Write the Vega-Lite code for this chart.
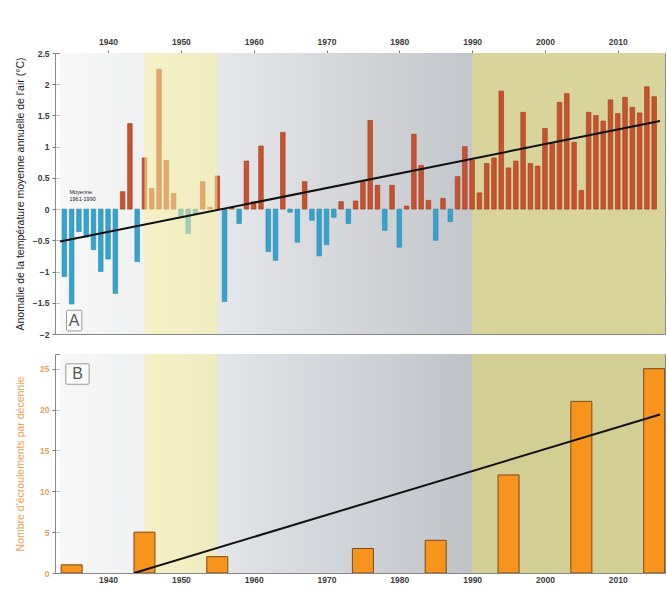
{
  "$schema": "https://vega.github.io/schema/vega-lite/v6.json",
  "background": "white",
  "padding": {"left": 14, "top": 36, "right": 0, "bottom": 0},
  "autosize": {"type": "pad"},
  "bounds": "flush",
  "spacing": 20,
  "config": {
    "view": {"stroke": "#8a8a8a", "strokeWidth": 1},
    "axis": {
      "labelFont": "Liberation Sans",
      "titleFont": "Liberation Sans",
      "labelFontSize": 8.5,
      "labelFontWeight": "bold",
      "labelColor": "#3a3a3a",
      "labelOverlap": false,
      "tickColor": "#777",
      "tickSize": 3,
      "domain": false,
      "grid": true,
      "gridColor": "#858585",
      "gridWidth": 0.7,
      "gridOpacity": 0.75,
      "zindex": 1,
      "titleFontWeight": "normal",
      "titleFontSize": 10.5
    }
  },
  "datasets": {
    "periods": [
      {"p": "grad", "start": 1933.4, "end": 1990},
      {"p": "olive", "start": 1990, "end": 2016.5},
      {"p": "yellow", "start": 1945, "end": 1955}
    ],
    "temp": [
      {"year": 1934, "v": -1.08}, {"year": 1935, "v": -1.52}, {"year": 1936, "v": -0.36}, {"year": 1937, "v": -0.45},
      {"year": 1938, "v": -0.65}, {"year": 1939, "v": -1.0}, {"year": 1940, "v": -0.8}, {"year": 1941, "v": -1.35},
      {"year": 1942, "v": 0.28}, {"year": 1943, "v": 1.37}, {"year": 1944, "v": -0.84}, {"year": 1945, "v": 0.82},
      {"year": 1946, "v": 0.33}, {"year": 1947, "v": 2.24}, {"year": 1948, "v": 0.78}, {"year": 1949, "v": 0.25},
      {"year": 1950, "v": -0.12}, {"year": 1951, "v": -0.39}, {"year": 1952, "v": -0.08}, {"year": 1953, "v": 0.44},
      {"year": 1954, "v": 0.03}, {"year": 1955, "v": 0.53}, {"year": 1956, "v": -1.48}, {"year": 1957, "v": 0.03},
      {"year": 1958, "v": -0.23}, {"year": 1959, "v": 0.77}, {"year": 1960, "v": 0.12}, {"year": 1961, "v": 1.01},
      {"year": 1962, "v": -0.68}, {"year": 1963, "v": -0.82}, {"year": 1964, "v": 1.23}, {"year": 1965, "v": -0.05},
      {"year": 1966, "v": -0.53}, {"year": 1967, "v": 0.44}, {"year": 1968, "v": -0.18}, {"year": 1969, "v": -0.75},
      {"year": 1970, "v": -0.57}, {"year": 1971, "v": -0.13}, {"year": 1972, "v": 0.12}, {"year": 1973, "v": -0.23},
      {"year": 1974, "v": 0.13}, {"year": 1975, "v": 0.44}, {"year": 1976, "v": 1.42}, {"year": 1977, "v": 0.38},
      {"year": 1978, "v": -0.34}, {"year": 1979, "v": 0.38}, {"year": 1980, "v": -0.61}, {"year": 1981, "v": 0.05},
      {"year": 1982, "v": 1.2}, {"year": 1983, "v": 0.7}, {"year": 1984, "v": 0.14}, {"year": 1985, "v": -0.5},
      {"year": 1986, "v": 0.17}, {"year": 1987, "v": -0.2}, {"year": 1988, "v": 0.52}, {"year": 1989, "v": 1.0},
      {"year": 1990, "v": 0.78}, {"year": 1991, "v": 0.26}, {"year": 1992, "v": 0.73}, {"year": 1993, "v": 0.82},
      {"year": 1994, "v": 1.89}, {"year": 1995, "v": 0.66}, {"year": 1996, "v": 0.77}, {"year": 1997, "v": 1.55},
      {"year": 1998, "v": 0.73}, {"year": 1999, "v": 0.69}, {"year": 2000, "v": 1.29}, {"year": 2001, "v": 1.05},
      {"year": 2002, "v": 1.71}, {"year": 2003, "v": 1.85}, {"year": 2004, "v": 1.07}, {"year": 2005, "v": 0.3},
      {"year": 2006, "v": 1.55}, {"year": 2007, "v": 1.5}, {"year": 2008, "v": 1.41}, {"year": 2009, "v": 1.75},
      {"year": 2010, "v": 1.53}, {"year": 2011, "v": 1.79}, {"year": 2012, "v": 1.63}, {"year": 2013, "v": 1.54},
      {"year": 2014, "v": 1.96}, {"year": 2015, "v": 1.8}
    ],
    "trendA": [{"year": 1933.4, "v": -0.52}, {"year": 2015.8, "v": 1.41}],
    "rock": [
      {"decade": 1935, "n": 1}, {"decade": 1945, "n": 5}, {"decade": 1955, "n": 2},
      {"decade": 1975, "n": 3}, {"decade": 1985, "n": 4}, {"decade": 1995, "n": 12}, {"decade": 2005, "n": 21},
      {"decade": 2015, "n": 25}
    ],
    "trendB": [{"decade": 1943.6, "n": 0}, {"decade": 2015.8, "n": 19.4}],
    "labelsA": [{"year": 1934.7, "v": 0.3, "t": "Moyenne\n1961-1990"}],
    "boxA": [{"x1": 1934.3, "x2": 1936.4, "y1": -1.62, "y2": -1.95, "xc": 1935.35, "yc": -1.785, "t": "A"}],
    "boxB": [{"x1": 1934.2, "x2": 1937.4, "y1": 25.6, "y2": 23.1, "xc": 1935.8, "yc": 24.35, "t": "B"}]
  },
  "vconcat": [
    {
      "width": 610,
      "height": 281,
      "resolve": {"axis": {"y": "shared"}},
      "layer": [
        {
          "data": {"name": "periods"},
          "transform": [{"filter": "datum.p == 'grad'"}],
          "mark": {"type": "rect", "clip": true, "fill": {"gradient": "linear", "x1": 0, "x2": 1, "y1": 0, "y2": 0, "stops": [
            {"offset": 0, "color": "#f7f7f7"}, {"offset": 0.2, "color": "#f0f1f2"}, {"offset": 0.5, "color": "#dfe1e4"}, {"offset": 1, "color": "#c3c6ca"}]}},
          "encoding": {
            "x": {"field": "start", "type": "quantitative", "scale": {"domain": [1933.4, 2015.8], "nice": false, "zero": false},
              "axis": {"orient": "top", "values": [1940, 1950, 1960, 1970, 1980, 1990, 2000, 2010], "format": "d", "title": null, "labelPadding": 4}},
            "x2": {"field": "end"},
            "y": {"datum": -2, "type": "quantitative", "scale": {"domain": [-2, 2.5], "nice": false},
              "axis": {"values": [-2, -1.5, -1, -0.5, 0, 0.5, 1, 1.5, 2, 2.5], "format": "~g", "title": "Anomalie de la température moyenne annuelle de l'air (°C)", "titleColor": "#1a1a1a", "titlePadding": 7, "labelPadding": 3}},
            "y2": {"datum": 2.5}
          }
        },
        {
          "data": {"name": "periods"},
          "transform": [{"filter": "datum.p == 'olive'"}],
          "mark": {"type": "rect", "clip": true, "fill": "#d8d49c"},
          "encoding": {
            "x": {"field": "start", "type": "quantitative"},
            "x2": {"field": "end"},
            "y": {"datum": -2, "type": "quantitative",
              "axis": {"values": [-2, -1.5, -1, -0.5, 0, 0.5, 1, 1.5, 2, 2.5], "format": "~g", "title": "Anomalie de la température moyenne annuelle de l'air (°C)", "titleColor": "#1a1a1a", "titlePadding": 7, "labelPadding": 3}},
            "y2": {"datum": 2.5}
          }
        },
        {
          "data": {"name": "temp"},
          "mark": {"type": "bar", "size": 4.6, "clip": true, "strokeWidth": 0.6},
          "encoding": {
            "x": {"field": "year", "type": "quantitative"},
            "y": {"field": "v", "type": "quantitative",
              "axis": {"values": [-2, -1.5, -1, -0.5, 0, 0.5, 1, 1.5, 2, 2.5], "format": "~g", "title": "Anomalie de la température moyenne annuelle de l'air (°C)", "titleColor": "#1a1a1a", "titlePadding": 7, "labelPadding": 3}},
            "color": {"condition": {"test": "datum.v > 0", "value": "#c8522d"}, "value": "#36a3cc"},
            "stroke": {"condition": {"test": "datum.v > 0", "value": "#9c3a20"}, "value": "#2a88ad"}
          }
        },
        {
          "data": {"name": "periods"},
          "transform": [{"filter": "datum.p == 'yellow'"}],
          "mark": {"type": "rect", "clip": true, "fill": "#f9f0a0", "opacity": 0.55},
          "encoding": {
            "x": {"field": "start", "type": "quantitative"},
            "x2": {"field": "end"},
            "y": {"datum": -2, "type": "quantitative",
              "axis": {"values": [-2, -1.5, -1, -0.5, 0, 0.5, 1, 1.5, 2, 2.5], "format": "~g", "title": "Anomalie de la température moyenne annuelle de l'air (°C)", "titleColor": "#1a1a1a", "titlePadding": 7, "labelPadding": 3}},
            "y2": {"datum": 2.5}
          }
        },
        {
          "data": {"name": "trendA"},
          "mark": {"type": "line", "color": "#111", "strokeWidth": 2, "clip": true},
          "encoding": {
            "x": {"field": "year", "type": "quantitative"},
            "y": {"field": "v", "type": "quantitative",
              "axis": {"values": [-2, -1.5, -1, -0.5, 0, 0.5, 1, 1.5, 2, 2.5], "format": "~g", "title": "Anomalie de la température moyenne annuelle de l'air (°C)", "titleColor": "#1a1a1a", "titlePadding": 7, "labelPadding": 3}}
          }
        },
        {
          "data": {"name": "labelsA"},
          "mark": {"type": "text", "align": "left", "baseline": "top", "fontSize": 5.5, "font": "Liberation Sans", "lineBreak": "\n", "color": "#222", "lineHeight": 6.5},
          "encoding": {
            "x": {"field": "year", "type": "quantitative"},
            "y": {"field": "v", "type": "quantitative",
              "axis": {"values": [-2, -1.5, -1, -0.5, 0, 0.5, 1, 1.5, 2, 2.5], "format": "~g", "title": "Anomalie de la température moyenne annuelle de l'air (°C)", "titleColor": "#1a1a1a", "titlePadding": 7, "labelPadding": 3}},
            "text": {"field": "t"}
          }
        },
        {
          "data": {"name": "boxA"},
          "mark": {"type": "rect", "fill": "#fbfbfb", "stroke": "#9a9a9a", "strokeWidth": 1, "cornerRadius": 1},
          "encoding": {
            "x": {"field": "x1", "type": "quantitative"},
            "x2": {"field": "x2"},
            "y": {"field": "y1", "type": "quantitative",
              "axis": {"values": [-2, -1.5, -1, -0.5, 0, 0.5, 1, 1.5, 2, 2.5], "format": "~g", "title": "Anomalie de la température moyenne annuelle de l'air (°C)", "titleColor": "#1a1a1a", "titlePadding": 7, "labelPadding": 3}},
            "y2": {"field": "y2"}
          }
        },
        {
          "data": {"name": "boxA"},
          "mark": {"type": "text", "fontSize": 16, "font": "Liberation Sans", "color": "#555", "baseline": "middle", "align": "center"},
          "encoding": {
            "x": {"field": "xc", "type": "quantitative"},
            "y": {"field": "yc", "type": "quantitative",
              "axis": {"values": [-2, -1.5, -1, -0.5, 0, 0.5, 1, 1.5, 2, 2.5], "format": "~g", "title": "Anomalie de la température moyenne annuelle de l'air (°C)", "titleColor": "#1a1a1a", "titlePadding": 7, "labelPadding": 3}},
            "text": {"field": "t"}
          }
        }
      ]
    },
    {
      "width": 610,
      "height": 219,
      "layer": [
        {
          "data": {"name": "periods"},
          "transform": [{"filter": "datum.p == 'grad'"}],
          "mark": {"type": "rect", "clip": true, "fill": {"gradient": "linear", "x1": 0, "x2": 1, "y1": 0, "y2": 0, "stops": [
            {"offset": 0, "color": "#f7f7f7"}, {"offset": 0.2, "color": "#f0f1f2"}, {"offset": 0.5, "color": "#dcdfe2"}, {"offset": 1, "color": "#bfc2c7"}]}},
          "encoding": {
            "x": {"field": "start", "type": "quantitative", "scale": {"domain": [1933.4, 2015.8], "nice": false, "zero": false},
              "axis": {"orient": "bottom", "values": [1940, 1950, 1960, 1970, 1980, 1990, 2000, 2010], "format": "d", "title": null, "labelPadding": 2, "tickSize": 0}},
            "x2": {"field": "end"},
            "y": {"datum": 0, "type": "quantitative", "scale": {"domain": [0, 26.8], "nice": false},
              "axis": {"values": [0, 5, 10, 15, 20, 25], "title": "Nombre d'écroulements par décennie", "titleColor": "#f0a050", "labelColor": "#e8a060", "titlePadding": 14, "labelPadding": 3}},
            "y2": {"datum": 26.8}
          }
        },
        {
          "data": {"name": "periods"},
          "transform": [{"filter": "datum.p == 'olive'"}],
          "mark": {"type": "rect", "clip": true, "fill": "#d2ce94"},
          "encoding": {
            "x": {"field": "start", "type": "quantitative"},
            "x2": {"field": "end"},
            "y": {"datum": 0, "type": "quantitative"},
            "y2": {"datum": 26.8}
          }
        },
        {
          "data": {"name": "periods"},
          "transform": [{"filter": "datum.p == 'yellow'"}],
          "mark": {"type": "rect", "clip": true, "fill": "#f9f0a0", "opacity": 0.55},
          "encoding": {
            "x": {"field": "start", "type": "quantitative"},
            "x2": {"field": "end"},
            "y": {"datum": 0, "type": "quantitative"},
            "y2": {"datum": 26.8}
          }
        },
        {
          "data": {"name": "rock"},
          "mark": {"type": "bar", "size": 21, "clip": true, "fill": "#f7941d", "stroke": "#7a4a1a", "strokeWidth": 1},
          "encoding": {
            "x": {"field": "decade", "type": "quantitative"},
            "y": {"field": "n", "type": "quantitative"}
          }
        },
        {
          "data": {"name": "trendB"},
          "mark": {"type": "line", "color": "#111", "strokeWidth": 2, "clip": true},
          "encoding": {
            "x": {"field": "decade", "type": "quantitative"},
            "y": {"field": "n", "type": "quantitative"}
          }
        },
        {
          "data": {"name": "boxB"},
          "mark": {"type": "rect", "fill": "#fbfbfb", "stroke": "#9a9a9a", "strokeWidth": 1, "cornerRadius": 1},
          "encoding": {
            "x": {"field": "x1", "type": "quantitative"},
            "x2": {"field": "x2"},
            "y": {"field": "y1", "type": "quantitative"},
            "y2": {"field": "y2"}
          }
        },
        {
          "data": {"name": "boxB"},
          "mark": {"type": "text", "fontSize": 16, "font": "Liberation Sans", "color": "#555", "baseline": "middle", "align": "center"},
          "encoding": {
            "x": {"field": "xc", "type": "quantitative"},
            "y": {"field": "yc", "type": "quantitative"},
            "text": {"field": "t"}
          }
        }
      ]
    }
  ]
}
